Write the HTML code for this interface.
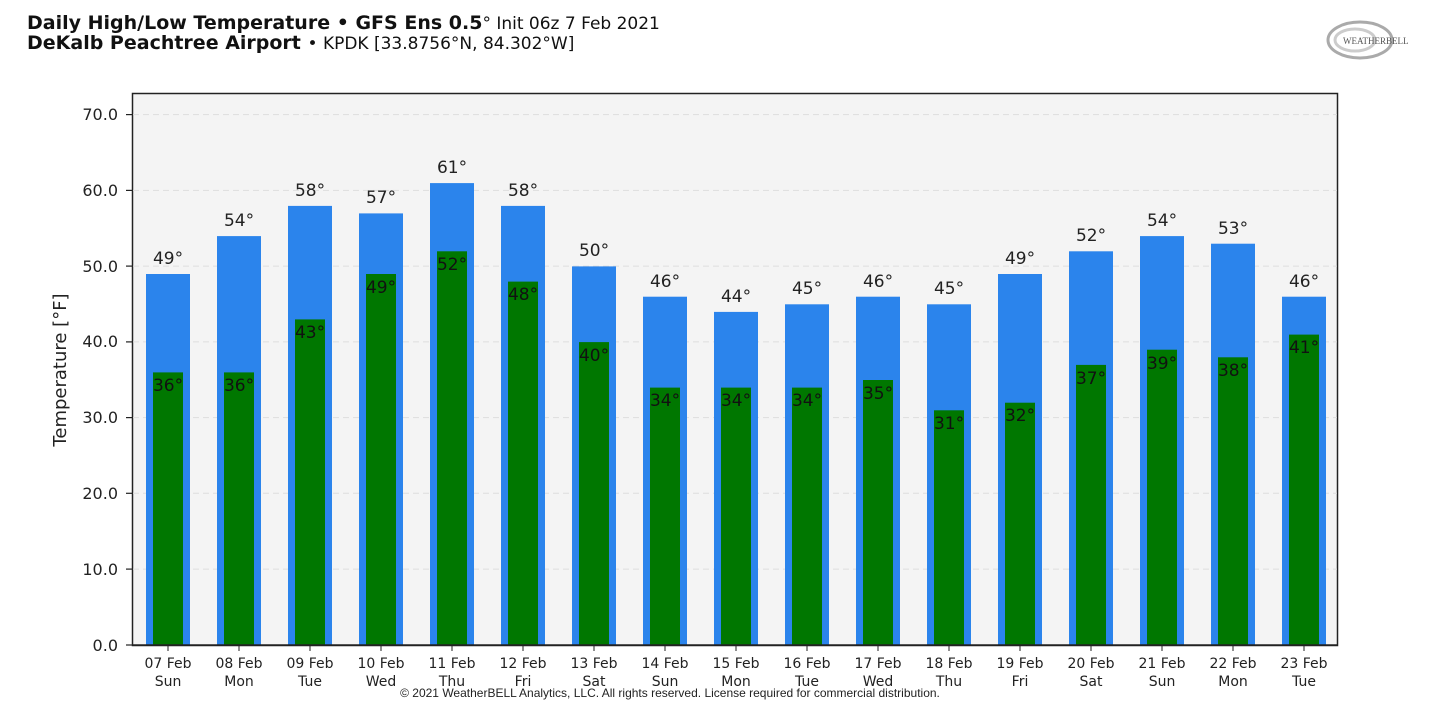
<!DOCTYPE html>
<html><head><meta charset="utf-8"><style>
html,body{margin:0;padding:0;background:#fff;}
svg{display:block;font-family:"DejaVu Sans","Liberation Sans",sans-serif;}
.b{fill:#2b84ec}.g{fill:#007700}
.h{font-size:17px;fill:#222;text-anchor:middle}
.l{font-size:17px;fill:#111;text-anchor:middle}
.x{font-size:14px;fill:#222;text-anchor:middle}
</style></head><body>
<svg width="1440" height="714" viewBox="0 0 1440 714" xmlns="http://www.w3.org/2000/svg">
<text x="27" y="29" font-size="19" font-weight="bold" fill="#111">Daily High/Low Temperature • GFS Ens 0.5<tspan font-weight="normal" font-size="17">° Init 06z 7 Feb 2021</tspan></text>
<text x="27" y="49" font-size="19" font-weight="bold" fill="#111">DeKalb Peachtree Airport <tspan font-weight="normal" font-size="17">• KPDK [33.8756°N, 84.302°W]</tspan></text>
<g>
<ellipse cx="1360" cy="40" rx="32" ry="18" fill="none" stroke="#aaa" stroke-width="3"/>
<ellipse cx="1355" cy="40" rx="20" ry="11" fill="none" stroke="#ccc" stroke-width="3"/>
<text x="1343" y="44" font-size="9" fill="#555" font-family="Liberation Serif,serif">WEATHERBELL</text>
</g>
<rect x="132.5" y="93.5" width="1205" height="552" fill="#f4f4f4" stroke="#222" stroke-width="1.5"/>
<g stroke="#ddd" stroke-dasharray="6,4" stroke-width="1">
<line x1="133" x2="1337" y1="114.6" y2="114.6"/>
<line x1="133" x2="1337" y1="190.4" y2="190.4"/>
<line x1="133" x2="1337" y1="266.1" y2="266.1"/>
<line x1="133" x2="1337" y1="341.9" y2="341.9"/>
<line x1="133" x2="1337" y1="417.6" y2="417.6"/>
<line x1="133" x2="1337" y1="493.3" y2="493.3"/>
<line x1="133" x2="1337" y1="569.1" y2="569.1"/>
</g>
<g font-size="16" fill="#222" text-anchor="end">
<text x="118" y="120">70.0</text><text x="118" y="196">60.0</text><text x="118" y="272">50.0</text>
<text x="118" y="347">40.0</text><text x="118" y="423">30.0</text><text x="118" y="499">20.0</text>
<text x="118" y="575">10.0</text><text x="118" y="651">0.0</text>
</g>
<g stroke="#222" stroke-width="1.2">
<line x1="126" x2="132" y1="114.6" y2="114.6"/><line x1="126" x2="132" y1="190.4" y2="190.4"/>
<line x1="126" x2="132" y1="266.1" y2="266.1"/><line x1="126" x2="132" y1="341.9" y2="341.9"/>
<line x1="126" x2="132" y1="417.6" y2="417.6"/><line x1="126" x2="132" y1="493.3" y2="493.3"/>
<line x1="126" x2="132" y1="569.1" y2="569.1"/><line x1="126" x2="132" y1="645" y2="645"/>
</g>
<text transform="translate(66,370) rotate(-90)" font-size="18" fill="#222" text-anchor="middle">Temperature [°F]</text>

<g transform="translate(168,0)"><rect class="b" x="-22" y="274.0" width="44" height="371.0"/><rect class="g" x="-15" y="372.4" width="30" height="272.6"/><text class="h" x="0" y="264">49°</text><text class="l" x="0" y="391">36°</text><line x1="0" x2="0" y1="645" y2="651" stroke="#222"/><text class="x" x="0" y="668">07 Feb</text><text class="x" x="0" y="686">Sun</text></g>
<g transform="translate(239,0)"><rect class="b" x="-22" y="236.1" width="44" height="408.9"/><rect class="g" x="-15" y="372.4" width="30" height="272.6"/><text class="h" x="0" y="226">54°</text><text class="l" x="0" y="391">36°</text><line x1="0" x2="0" y1="645" y2="651" stroke="#222"/><text class="x" x="0" y="668">08 Feb</text><text class="x" x="0" y="686">Mon</text></g>
<g transform="translate(310,0)"><rect class="b" x="-22" y="205.9" width="44" height="439.1"/><rect class="g" x="-15" y="319.4" width="30" height="325.6"/><text class="h" x="0" y="196">58°</text><text class="l" x="0" y="338">43°</text><line x1="0" x2="0" y1="645" y2="651" stroke="#222"/><text class="x" x="0" y="668">09 Feb</text><text class="x" x="0" y="686">Tue</text></g>
<g transform="translate(381,0)"><rect class="b" x="-22" y="213.4" width="44" height="431.6"/><rect class="g" x="-15" y="274.0" width="30" height="371.0"/><text class="h" x="0" y="203">57°</text><text class="l" x="0" y="293">49°</text><line x1="0" x2="0" y1="645" y2="651" stroke="#222"/><text class="x" x="0" y="668">10 Feb</text><text class="x" x="0" y="686">Wed</text></g>
<g transform="translate(452,0)"><rect class="b" x="-22" y="183.1" width="44" height="461.9"/><rect class="g" x="-15" y="251.3" width="30" height="393.7"/><text class="h" x="0" y="173">61°</text><text class="l" x="0" y="270">52°</text><line x1="0" x2="0" y1="645" y2="651" stroke="#222"/><text class="x" x="0" y="668">11 Feb</text><text class="x" x="0" y="686">Thu</text></g>
<g transform="translate(523,0)"><rect class="b" x="-22" y="205.9" width="44" height="439.1"/><rect class="g" x="-15" y="281.6" width="30" height="363.4"/><text class="h" x="0" y="196">58°</text><text class="l" x="0" y="300">48°</text><line x1="0" x2="0" y1="645" y2="651" stroke="#222"/><text class="x" x="0" y="668">12 Feb</text><text class="x" x="0" y="686">Fri</text></g>
<g transform="translate(594,0)"><rect class="b" x="-22" y="266.4" width="44" height="378.6"/><rect class="g" x="-15" y="342.1" width="30" height="302.9"/><text class="h" x="0" y="256">50°</text><text class="l" x="0" y="361">40°</text><line x1="0" x2="0" y1="645" y2="651" stroke="#222"/><text class="x" x="0" y="668">13 Feb</text><text class="x" x="0" y="686">Sat</text></g>
<g transform="translate(665,0)"><rect class="b" x="-22" y="296.7" width="44" height="348.3"/><rect class="g" x="-15" y="387.6" width="30" height="257.4"/><text class="h" x="0" y="287">46°</text><text class="l" x="0" y="406">34°</text><line x1="0" x2="0" y1="645" y2="651" stroke="#222"/><text class="x" x="0" y="668">14 Feb</text><text class="x" x="0" y="686">Sun</text></g>
<g transform="translate(736,0)"><rect class="b" x="-22" y="311.9" width="44" height="333.1"/><rect class="g" x="-15" y="387.6" width="30" height="257.4"/><text class="h" x="0" y="302">44°</text><text class="l" x="0" y="406">34°</text><line x1="0" x2="0" y1="645" y2="651" stroke="#222"/><text class="x" x="0" y="668">15 Feb</text><text class="x" x="0" y="686">Mon</text></g>
<g transform="translate(807,0)"><rect class="b" x="-22" y="304.3" width="44" height="340.7"/><rect class="g" x="-15" y="387.6" width="30" height="257.4"/><text class="h" x="0" y="294">45°</text><text class="l" x="0" y="406">34°</text><line x1="0" x2="0" y1="645" y2="651" stroke="#222"/><text class="x" x="0" y="668">16 Feb</text><text class="x" x="0" y="686">Tue</text></g>
<g transform="translate(878,0)"><rect class="b" x="-22" y="296.7" width="44" height="348.3"/><rect class="g" x="-15" y="380.0" width="30" height="265.0"/><text class="h" x="0" y="287">46°</text><text class="l" x="0" y="399">35°</text><line x1="0" x2="0" y1="645" y2="651" stroke="#222"/><text class="x" x="0" y="668">17 Feb</text><text class="x" x="0" y="686">Wed</text></g>
<g transform="translate(949,0)"><rect class="b" x="-22" y="304.3" width="44" height="340.7"/><rect class="g" x="-15" y="410.3" width="30" height="234.7"/><text class="h" x="0" y="294">45°</text><text class="l" x="0" y="429">31°</text><line x1="0" x2="0" y1="645" y2="651" stroke="#222"/><text class="x" x="0" y="668">18 Feb</text><text class="x" x="0" y="686">Thu</text></g>
<g transform="translate(1020,0)"><rect class="b" x="-22" y="274.0" width="44" height="371.0"/><rect class="g" x="-15" y="402.7" width="30" height="242.3"/><text class="h" x="0" y="264">49°</text><text class="l" x="0" y="421">32°</text><line x1="0" x2="0" y1="645" y2="651" stroke="#222"/><text class="x" x="0" y="668">19 Feb</text><text class="x" x="0" y="686">Fri</text></g>
<g transform="translate(1091,0)"><rect class="b" x="-22" y="251.3" width="44" height="393.7"/><rect class="g" x="-15" y="364.9" width="30" height="280.1"/><text class="h" x="0" y="241">52°</text><text class="l" x="0" y="384">37°</text><line x1="0" x2="0" y1="645" y2="651" stroke="#222"/><text class="x" x="0" y="668">20 Feb</text><text class="x" x="0" y="686">Sat</text></g>
<g transform="translate(1162,0)"><rect class="b" x="-22" y="236.1" width="44" height="408.9"/><rect class="g" x="-15" y="349.7" width="30" height="295.3"/><text class="h" x="0" y="226">54°</text><text class="l" x="0" y="369">39°</text><line x1="0" x2="0" y1="645" y2="651" stroke="#222"/><text class="x" x="0" y="668">21 Feb</text><text class="x" x="0" y="686">Sun</text></g>
<g transform="translate(1233,0)"><rect class="b" x="-22" y="243.7" width="44" height="401.3"/><rect class="g" x="-15" y="357.3" width="30" height="287.7"/><text class="h" x="0" y="234">53°</text><text class="l" x="0" y="376">38°</text><line x1="0" x2="0" y1="645" y2="651" stroke="#222"/><text class="x" x="0" y="668">22 Feb</text><text class="x" x="0" y="686">Mon</text></g>
<g transform="translate(1304,0)"><rect class="b" x="-22" y="296.7" width="44" height="348.3"/><rect class="g" x="-15" y="334.6" width="30" height="310.4"/><text class="h" x="0" y="287">46°</text><text class="l" x="0" y="353">41°</text><line x1="0" x2="0" y1="645" y2="651" stroke="#222"/><text class="x" x="0" y="668">23 Feb</text><text class="x" x="0" y="686">Tue</text></g>

<text x="670" y="697" font-size="12" fill="#222" text-anchor="middle" font-family="Liberation Sans Narrow,Liberation Sans,sans-serif">© 2021 WeatherBELL Analytics, LLC. All rights reserved. License required for commercial distribution.</text>
<line x1="132" x2="1338" y1="645" y2="645" stroke="#222" stroke-width="1.5"/>
</svg>
</body></html>
